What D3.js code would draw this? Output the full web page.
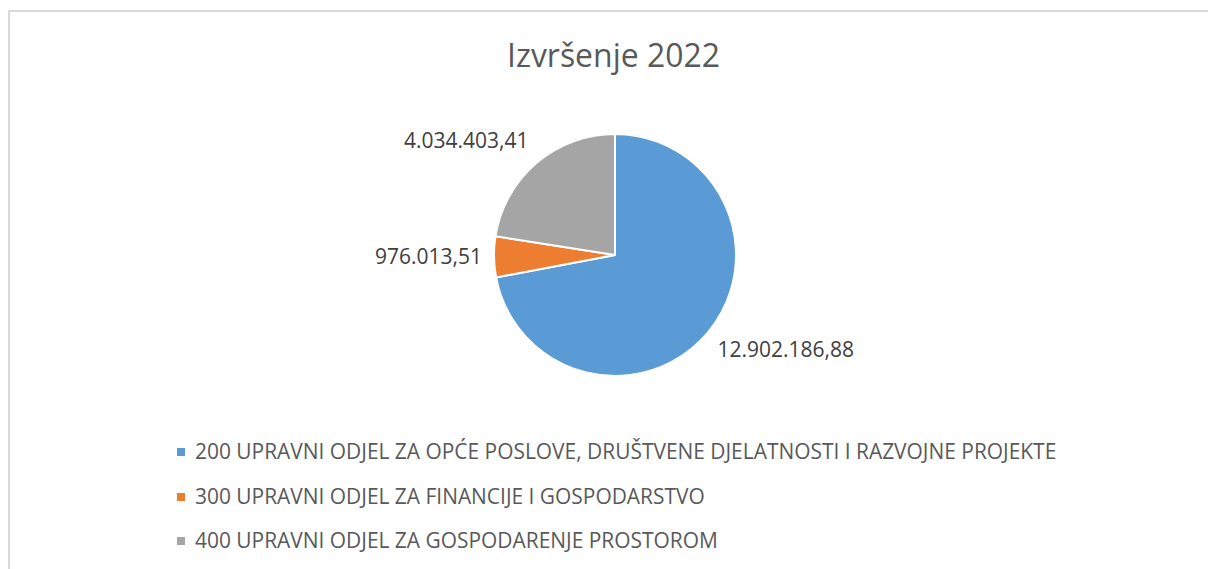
<!DOCTYPE html>
<html lang="hr">
<head>
<meta charset="UTF-8"/>
<title>Izvršenje 2022</title>
<script src="https://d3js.org/d3.v7.min.js"></script>
<style>
    body { margin: 0; background: #fff; }
    svg { display: block; font-family: "Open Sans", "Noto Sans", sans-serif; }
</style>
</head>
<body>
<script>
    var categories = [
        "200 UPRAVNI ODJEL ZA OPĆE POSLOVE, DRUŠTVENE DJELATNOSTI I RAZVOJNE PROJEKTE",
        "300 UPRAVNI ODJEL ZA FINANCIJE I GOSPODARSTVO",
        "400 UPRAVNI ODJEL ZA GOSPODARENJE PROSTOROM"
    ];
    var values = [12902186.88, 976013.51, 4034403.41];
    var valueLabels = ["12.902.186,88", "976.013,51", "4.034.403,41"];
    var colors = ["#5b9bd5", "#ed7d31", "#a5a5a5"];

    var w = 1208, h = 569;
    var cx = 615, cy = 255, radius = 121;

    var svg = d3.select("body").append("svg")
        .attr("width", w)
        .attr("height", h);

    // chart area border (left + top visible only)
    svg.append("path")
        .attr("d", "M9," + h + "V11H" + w)
        .attr("fill", "none")
        .attr("stroke", "#d9d9d9")
        .attr("stroke-width", 2);

    // scale a text element's font size so it spans the wanted width
    function fitWidth(sel, target, start) {
        sel.attr("font-size", start);
        var len = sel.node().getComputedTextLength();
        var size = start * target / len;
        sel.attr("font-size", size);
        return size;
    }

    var title = svg.append("text")
        .attr("x", 613.5)
        .attr("y", 67)
        .attr("text-anchor", "middle")
        .attr("fill", "#595959")
        .text("Izvršenje 2022");
    fitWidth(title, 213, 28);

    var pie = d3.pie().sort(null).value(function(d) { return d; });
    var arcs = pie(values);
    var arc = d3.arc().innerRadius(0).outerRadius(radius);

    var g = svg.append("g").attr("transform", "translate(" + cx + "," + cy + ")");

    g.selectAll("path.slice")
        .data(arcs)
        .enter()
        .append("path")
        .attr("class", "slice")
        .attr("d", arc)
        .attr("fill", function(d, i) { return colors[i]; })
        .attr("stroke", "#fff")
        .attr("stroke-width", 2)
        .attr("stroke-linejoin", "round");

    // data labels outside the slices
    var labelR = 133;
    g.selectAll("text.lbl")
        .data(arcs)
        .enter()
        .append("text")
        .attr("class", "lbl")
        .attr("fill", "#404040")
        .attr("font-size", 21)
        .each(function(d, i) {
            var a = (d.startAngle + d.endAngle) / 2;
            var x = labelR * Math.sin(a);
            var y = -labelR * Math.cos(a);
            var t = d3.select(this)
                .attr("x", x)
                .attr("y", y)
                .attr("text-anchor", x < 0 ? "end" : "start")
                .text(valueLabels[i]);
            if (Math.abs(y) < 30) t.attr("dy", "0.35em");
            else if (y > 0) t.attr("dy", "0.8em");
            else t.attr("dy", "-0.3em");
        });

    // legend
    var legendX = 177, textX = 195;
    var baselines = [459, 504, 548];
    var legend = svg.selectAll("g.legend")
        .data(categories)
        .enter()
        .append("g")
        .attr("class", "legend");

    legend.append("rect")
        .attr("x", legendX)
        .attr("y", function(d, i) { return baselines[i] - 11; })
        .attr("width", 8)
        .attr("height", 8)
        .attr("fill", function(d, i) { return colors[i]; });

    var legendText = legend.append("text")
        .attr("x", textX)
        .attr("y", function(d, i) { return baselines[i]; })
        .attr("fill", "#595959")
        .text(function(d) { return d; });

    var legendSize = fitWidth(d3.select(legendText.nodes()[0]), 862, 19);
    legendText.attr("font-size", legendSize);
</script>
</body>
</html>
